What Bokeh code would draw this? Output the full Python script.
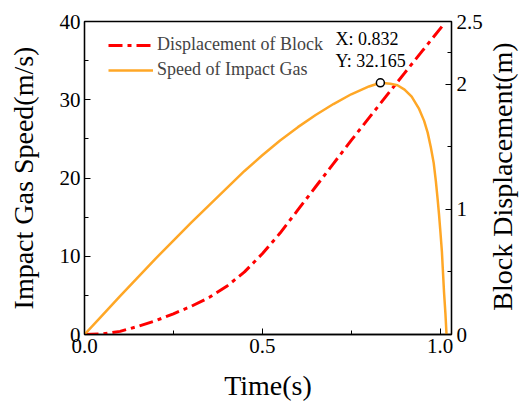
import math
from bokeh.plotting import figure
from bokeh.layouts import row
from bokeh.models import Range1d, LinearAxis, FixedTicker, Legend, LegendItem, Label, ColumnDataSource
from bokeh.embed import file_html
from bokeh.resources import INLINE

# ---- data ----
speed_t = [0.0, 0.05, 0.1, 0.15, 0.2, 0.25, 0.3, 0.35, 0.4, 0.45, 0.5, 0.55, 0.6,
           0.65, 0.7, 0.75, 0.8, 0.832, 0.86, 0.88, 0.9, 0.92, 0.94, 0.955, 0.965,
           0.974, 0.982, 0.988, 0.993, 0.997, 1.001, 1.005, 1.008, 1.011, 1.015, 1.018]
speed_v = [0.0, 2.45, 4.9, 7.3, 9.7, 12.0, 14.3, 16.5, 18.7, 20.9, 22.9, 24.8, 26.5,
           28.05, 29.45, 30.7, 31.7, 32.165, 32.05, 31.85, 31.3, 30.4, 28.9, 27.3, 25.8,
           23.9, 21.9, 19.6, 17.3, 15.3, 13.0, 10.6, 8.0, 5.4, 2.6, 0.0]

disp_t = [0.0, 0.05, 0.1, 0.15, 0.2, 0.25, 0.3, 0.35, 0.4, 0.45, 0.5, 0.55, 0.6,
          0.65, 0.7, 0.75, 0.8, 0.85, 0.9, 0.95, 1.008]
disp_d = [0.0, 0.004, 0.025, 0.065, 0.11, 0.165, 0.225, 0.295, 0.385, 0.50, 0.645,
          0.81, 0.995, 1.18, 1.365, 1.55, 1.73, 1.91, 2.088, 2.265, 2.47]

peak_t = 0.832
peak_v = 32.165

x_ticks = [0.0, 0.5, 1.0]
x_minor = [0.25, 0.75]
x_labels = {0.0: "0.0", 0.5: "0.5", 1.0: "1.0"}
left_ticks = [0, 10, 20, 30, 40]
left_minor = [5, 15, 25, 35]
right_ticks = [0, 1, 2, 2.5]
right_minor = [0.5, 1.5, 2.25]
right_labels = {0: "0", 1: "1", 2: "2", 2.5: "2.5"}

FONT = "Liberation Serif"
ORANGE = "#FFA726"
RED = "#FF0000"

p = figure(width=489, height=403, output_backend="svg", toolbar_location=None,
           x_range=Range1d(0, 1.032), y_range=Range1d(0, 40),
           min_border_left=84, min_border_right=38, min_border_top=21, min_border_bottom=69)
p.extra_y_ranges = {"disp": Range1d(0, 2.5)}
p.grid.visible = False
p.outline_line_color = "black"
p.outline_line_width = 1.3
p.background_fill_color = "white"
p.border_fill_color = "white"

def style_axis(ax, ticks, minor, label, standoff, overrides=None):
    ax.ticker = FixedTicker(ticks=ticks, minor_ticks=minor)
    if overrides:
        ax.major_label_overrides = overrides
    ax.axis_label = label
    ax.axis_label_text_font = FONT
    ax.axis_label_text_font_size = "28px"
    ax.axis_label_text_font_style = "normal"
    ax.axis_label_text_color = "black"
    ax.axis_label_standoff = standoff
    ax.major_label_text_font = FONT
    ax.major_label_text_font_size = "21px"
    ax.major_label_text_color = "black"
    ax.major_label_standoff = 4
    ax.major_tick_in = 6
    ax.major_tick_out = 0
    ax.minor_tick_in = 4
    ax.minor_tick_out = 0
    ax.axis_line_color = "black"
    ax.axis_line_width = 1.3
    ax.major_tick_line_color = "black"
    ax.minor_tick_line_color = "black"

style_axis(p.xaxis[0], x_ticks, x_minor, "Time(s)", 14, x_labels)
style_axis(p.yaxis[0], left_ticks, left_minor, "Impact Gas Speed(m/s)", 18)

raxis = LinearAxis(y_range_name="disp")
style_axis(raxis, right_ticks, right_minor, None, 0, right_labels)
raxis.major_label_standoff = 5
p.add_layout(raxis, "right")

src_s = ColumnDataSource(dict(t=speed_t, v=speed_v))
src_d = ColumnDataSource(dict(t=disp_t, d=disp_d))

r_disp = p.line("t", "d", source=src_d, y_range_name="disp", line_color=RED,
                line_width=3, line_dash="14 5 4 5")
r_speed = p.line("t", "v", source=src_s, line_color=ORANGE, line_width=2.5)

p.scatter([peak_t], [peak_v], marker="circle", size=8, fill_color="white",
          line_color="black", line_width=1.5)

for txt, yoff in ((f"X: {peak_t:.3f}", 44), (f"Y: {peak_v:.3f}", 22)):
    p.add_layout(Label(x=peak_t, y=peak_v, x_offset=-45, y_offset=yoff, text=txt,
                       text_font=FONT, text_font_size="18px", text_color="black",
                       text_baseline="middle", text_align="left"))

legend = Legend(items=[LegendItem(label="Displacement of Block", renderers=[r_disp]),
                       LegendItem(label="Speed of Impact Gas", renderers=[r_speed])],
                location=(24, 254), padding=0, margin=0, spacing=4,
                glyph_width=45, glyph_height=20, label_height=20, label_standoff=4,
                label_text_font=FONT, label_text_font_size="18px",
                border_line_alpha=0, background_fill_alpha=0)
p.add_layout(legend, "center")

# narrow companion figure holding the right-axis title (reads bottom-to-top)
p2 = figure(width=30, height=403, output_backend="svg", toolbar_location=None,
            min_border=0, x_range=Range1d(0, 1), y_range=Range1d(0, 1))
p2.axis.visible = False
p2.grid.visible = False
p2.outline_line_color = None
p2.background_fill_color = "white"
p2.border_fill_color = "white"
p2.add_layout(Label(x=13, y=158, x_units="screen", y_units="screen",
                    text="Block Displacement(m)", angle=math.pi / 2,
                    text_font=FONT, text_font_size="28px", text_color="black",
                    text_align="center", text_baseline="middle"))

layout = row(p, p2, spacing=0)
open("out.html", "w").write(file_html(layout, INLINE))
